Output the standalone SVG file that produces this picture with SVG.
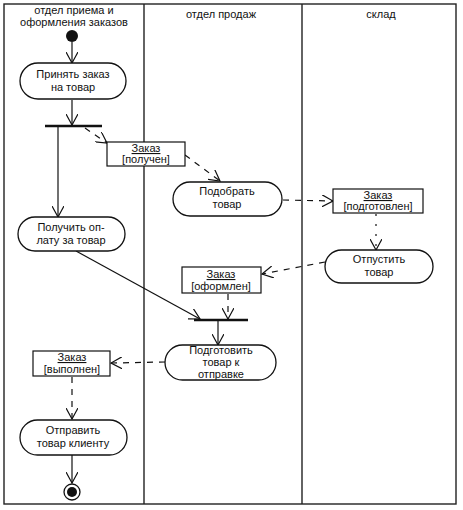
<svg xmlns="http://www.w3.org/2000/svg" width="463" height="510" viewBox="0 0 463 510">
<style>
text{font-family:"Liberation Sans",Arial,sans-serif;font-size:11px;fill:#111;text-anchor:middle}
.act{fill:#fff;stroke:#111;stroke-width:1.3}
.obj{fill:#fff;stroke:#111;stroke-width:1.2}
.lane{fill:none;stroke:#222;stroke-width:1.4}
.solid{fill:none;stroke:#111;stroke-width:1.2;marker-end:url(#arr)}
.dash{fill:none;stroke:#111;stroke-width:1.2;stroke-dasharray:6,6;marker-end:url(#arr)}
.bar{stroke:#111;stroke-width:2.5}
.u{text-decoration:underline}
</style>
<defs>
<marker id="arr" viewBox="0 0 12 12" refX="11" refY="6" markerWidth="12" markerHeight="12" markerUnits="userSpaceOnUse" orient="auto">
<path d="M0,0 L11,6 L0,12" fill="none" stroke="#111" stroke-width="1.2"/>
</marker>
</defs>
<g id="lanes">
<rect class="lane" x="4" y="4" width="452" height="500"/>
<line class="lane" x1="144" y1="4" x2="144" y2="504"/>
<line class="lane" x1="302" y1="4" x2="302" y2="504"/>
<text x="74" y="14">отдел приема и</text>
<text x="74" y="26">оформления заказов</text>
<text x="221" y="18">отдел продаж</text>
<text x="381" y="18">склад</text>
</g>
<g id="connectors">
<line class="solid" x1="72" y1="42" x2="72" y2="63"/>
<line class="solid" x1="72" y1="100" x2="72" y2="125"/>
<line class="solid" x1="58" y1="127" x2="58" y2="217"/>
<line class="dash" x1="85" y1="128" x2="107" y2="143"/>
<line class="dash" x1="185" y1="155" x2="220" y2="181"/>
<line class="dash" x1="283" y1="200" x2="333" y2="201"/>
<line class="dash" x1="376" y1="214" x2="376" y2="250" style="stroke-dasharray:2,8"/>
<line class="dash" x1="325" y1="262" x2="262" y2="274"/>
<line class="dash" x1="228" y1="294" x2="228" y2="319"/>
<line class="solid" x1="76" y1="251" x2="200" y2="319"/>
<line class="solid" x1="218" y1="321" x2="218" y2="345"/>
<line class="dash" x1="165" y1="362" x2="111" y2="363"/>
<line class="dash" x1="72" y1="377" x2="72" y2="419"/>
<line class="solid" x1="72" y1="455" x2="72" y2="483"/>
</g>
<g id="start"><circle cx="72" cy="36" r="6" fill="#111"/></g>
<g id="n1"><rect class="act" x="20" y="63" width="106" height="36" rx="18"/><text x="73" y="78">Принять заказ</text><text x="73" y="91">на товар</text></g>
<g id="fork1"><line class="bar" x1="45" y1="126" x2="102" y2="126"/></g>
<g id="o1"><rect class="obj" x="107" y="142" width="78" height="24"/><text class="u" x="146" y="152">Заказ</text><text x="146" y="163">[получен]</text></g>
<g id="n2"><rect class="act" x="18" y="217" width="107" height="34" rx="17"/><text x="71" y="231">Получить оп-</text><text x="71" y="244">лату за товар</text></g>
<g id="n3"><rect class="act" x="173" y="182" width="109" height="34" rx="17"/><text x="227" y="195">Подобрать</text><text x="227" y="208">товар</text></g>
<g id="o2"><rect class="obj" x="333" y="189" width="90" height="24"/><text class="u" x="378" y="199">Заказ</text><text x="378" y="210">[подготовлен]</text></g>
<g id="n4"><rect class="act" x="325" y="250" width="108" height="33" rx="16.5"/><text x="379" y="263">Отпустить</text><text x="379" y="276">товар</text></g>
<g id="o3"><rect class="obj" x="182" y="267" width="79" height="26"/><text class="u" x="221" y="278">Заказ</text><text x="221" y="290">[оформлен]</text></g>
<g id="join1"><line class="bar" x1="194" y1="320" x2="248" y2="320"/></g>
<g id="n5"><rect class="act" x="165" y="345" width="111" height="35" rx="17.5"/><text x="221" y="354">Подготовить</text><text x="221" y="366">товар к</text><text x="221" y="378">отправке</text></g>
<g id="o4"><rect class="obj" x="33" y="351" width="77" height="25"/><text class="u" x="72" y="361">Заказ</text><text x="72" y="373">[выполнен]</text></g>
<g id="n6"><rect class="act" x="20" y="420" width="107" height="35" rx="17.5"/><text x="73" y="434">Отправить</text><text x="73" y="447">товар клиенту</text></g>
<g id="end"><circle cx="72" cy="492" r="8" fill="#fff" stroke="#111" stroke-width="1.3"/><circle cx="72" cy="492" r="5" fill="#111"/></g>
</svg>
